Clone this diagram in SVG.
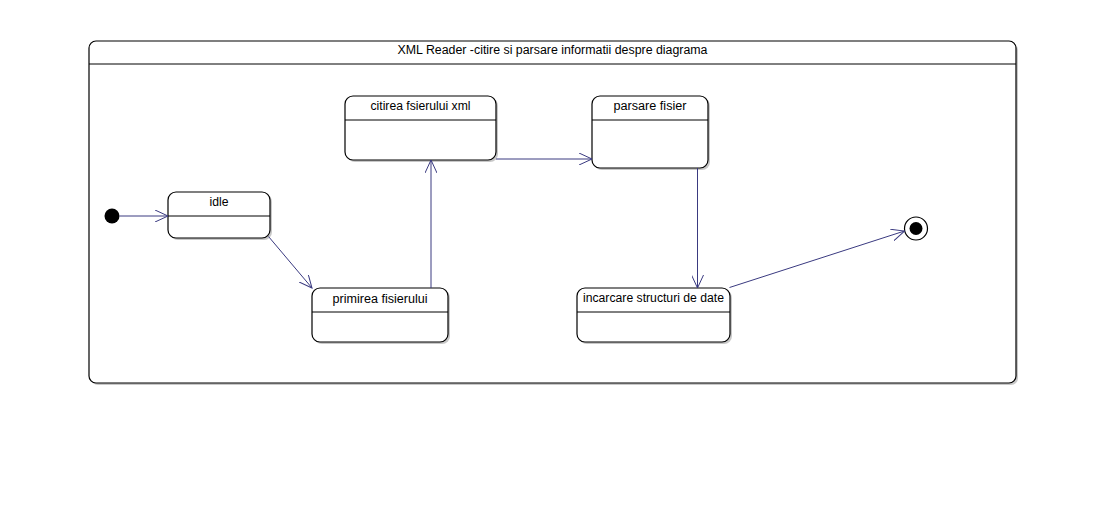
<svg xmlns="http://www.w3.org/2000/svg" width="1104" height="520" viewBox="0 0 1104 520">
<style>
.shadow{fill:#c8c8c8;stroke:none}
.box{fill:#fff;stroke:#000;stroke-width:1.2}
.div{stroke:#000;stroke-width:1}
.lbl{font-family:"Liberation Sans",Arial,sans-serif;font-size:12px;fill:#000;text-anchor:middle}
.edge{fill:none;stroke:#3a3a80;stroke-width:1}
</style>
<defs>
<marker id="open" viewBox="0 0 14 12" refX="13" refY="6" markerWidth="14" markerHeight="12" markerUnits="userSpaceOnUse" orient="auto">
<path d="M0,0 L13,6 L0,12" fill="none" stroke="#3a3a80" stroke-width="1"/>
</marker>
</defs>
<rect width="1104" height="520" fill="#fff"/>
<g id="frame">
<rect class="shadow" x="91" y="43" width="927" height="342" rx="7"/>
<rect class="box" x="89" y="41" width="927" height="342" rx="7"/>
<line class="div" x1="89" y1="64" x2="1016" y2="64"/>
<text class="lbl" x="552.5" y="54" textLength="310" lengthAdjust="spacingAndGlyphs">XML Reader -citire si parsare informatii despre diagrama</text>
</g>
<g id="initial">
<circle cx="112" cy="216" r="7.5" fill="#000"/>
</g>
<g id="idle">
<rect class="shadow" x="170" y="194" width="102" height="46" rx="8"/>
<rect class="box" x="168" y="192" width="102" height="46" rx="8"/>
<line class="div" x1="168" y1="216" x2="270" y2="216"/>
<text class="lbl" x="219" y="206" textLength="19" lengthAdjust="spacingAndGlyphs">idle</text>
</g>
<g id="primirea">
<rect class="shadow" x="314" y="290" width="136" height="54" rx="8"/>
<rect class="box" x="312" y="288" width="136" height="54" rx="8"/>
<line class="div" x1="312" y1="312" x2="448" y2="312"/>
<text class="lbl" x="380" y="302.5" textLength="95" lengthAdjust="spacingAndGlyphs">primirea fisierului</text>
</g>
<g id="citirea">
<rect class="shadow" x="347" y="98" width="151" height="64" rx="8"/>
<rect class="box" x="345" y="96" width="151" height="64" rx="8"/>
<line class="div" x1="345" y1="120" x2="496" y2="120"/>
<text class="lbl" x="420.5" y="110" textLength="100" lengthAdjust="spacingAndGlyphs">citirea fsierului xml</text>
</g>
<g id="parsare">
<rect class="shadow" x="594" y="98" width="116" height="72" rx="8"/>
<rect class="box" x="592" y="96" width="116" height="72" rx="8"/>
<line class="div" x1="592" y1="120" x2="708" y2="120"/>
<text class="lbl" x="650" y="110" textLength="73" lengthAdjust="spacingAndGlyphs">parsare fisier</text>
</g>
<g id="incarcare">
<rect class="shadow" x="579" y="290" width="153" height="54" rx="8"/>
<rect class="box" x="577" y="288" width="153" height="54" rx="8"/>
<line class="div" x1="577" y1="312" x2="730" y2="312"/>
<text class="lbl" x="653.5" y="302" textLength="141" lengthAdjust="spacingAndGlyphs">incarcare structuri de date</text>
</g>
<g id="final">
<circle cx="916" cy="228.5" r="11.5" fill="#fff" stroke="#000" stroke-width="1.2"/>
<circle cx="916" cy="228.5" r="6.5" fill="#000"/>
</g>
<g id="connectors">
<path class="edge" d="M119.5,216 L168,216" marker-end="url(#open)"/>
<path class="edge" d="M268.5,236.5 L312,288" marker-end="url(#open)"/>
<path class="edge" d="M431,288 L431,160" marker-end="url(#open)"/>
<path class="edge" d="M496,159 L592,159" marker-end="url(#open)"/>
<path class="edge" d="M697.5,168 L697.5,288" marker-end="url(#open)"/>
<path class="edge" d="M729.5,287.5 L904.5,231" marker-end="url(#open)"/>
</g>
</svg>
